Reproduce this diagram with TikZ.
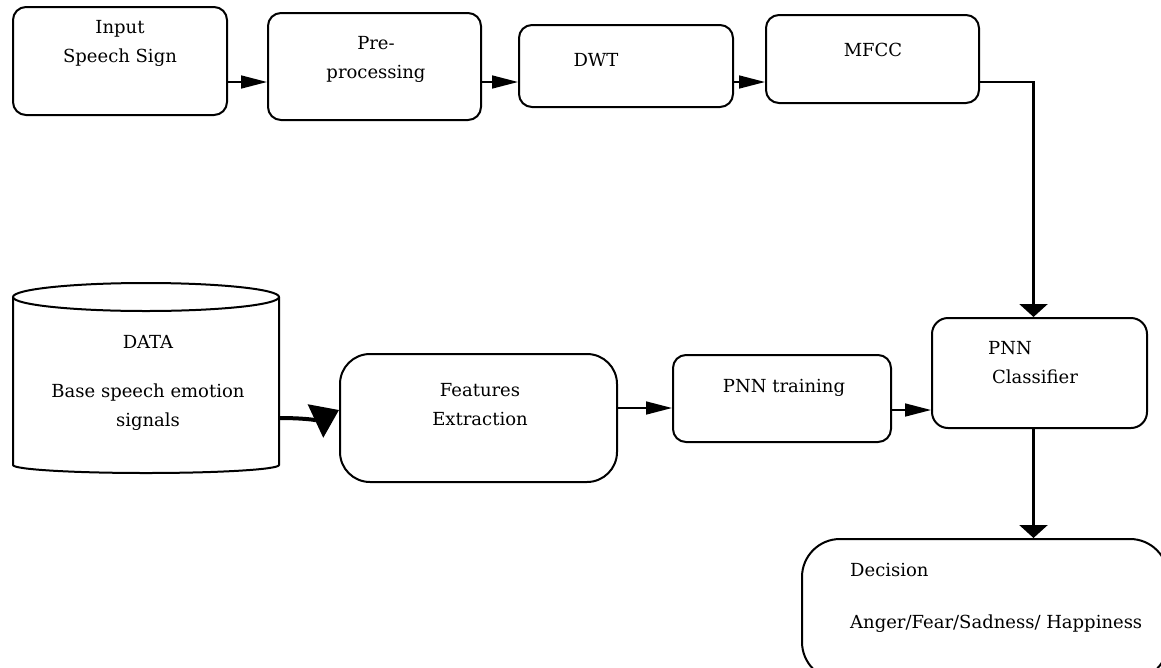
\documentclass[tikz,border=0pt]{standalone}
\usepackage{fontspec}
\setmainfont{DejaVu Serif}
\usetikzlibrary{arrows.meta}

\begin{document}
\begin{tikzpicture}[
  x=1pt, y=-1pt,
  box/.style={draw, line width=2pt, rounded corners=13pt, inner sep=0pt},
  txt/.style={align=center, inner sep=0pt, font=\fontsize{18}{29}\selectfont},
  harr/.style={line width=1.6pt, -{Triangle[length=26pt,width=13pt]}},
  varr/.style={line width=2.6pt, -{Triangle[length=13pt,width=28pt]}},
  darr/.style={line width=4pt, -{Triangle[length=26pt,width=36pt]}},
]
  \fill[white] (0,0) rectangle (1161,667);
  \useasboundingbox (0,0) rectangle (1161,667);
  \clip (0,0) rectangle (1161,667);

  % 上排方框
  \node[box, minimum width=214pt, minimum height=108pt] (inp) at (120,61) {};
  \node[box, minimum width=213pt, minimum height=107pt] (pre) at (374.5,66.5) {};
  \node[box, minimum width=214pt, minimum height=82pt] (dwt) at (626,66) {};
  \node[box, minimum width=213pt, minimum height=88pt] (mfcc) at (872.5,59) {};

  \node[txt] (inptxt) at (120,43) {Input\\Speech Sign};
  \node[txt] (pretxt) at (376,59) {Pre-\\processing};
  \node[txt] (dwttxt) at (596,60) {DWT};
  \node[txt] (mfcctxt) at (873,50) {MFCC};

  % 上排箭头
  \coordinate (a1) at ([yshift=-21pt]inp.east);
  \coordinate (a2) at ([yshift=-15.5pt]pre.east);
  \coordinate (a3) at ([yshift=-16pt]dwt.east);
  \coordinate (a4) at ([yshift=-23pt]mfcc.east);
  \draw[harr] (a1) -- (a1 -| pre.west);
  \draw[harr] (a2) -- (a2 -| dwt.west);
  \draw[harr] (a3) -- (a3 -| mfcc.west);

  % 数据库（圆柱）
  \draw[line width=2pt] (146,297) ellipse[x radius=133, y radius=14];
  \draw[line width=2pt] (13,297) -- (13,465)
    arc[start angle=180, end angle=0, x radius=133, y radius=8] -- (279,297);
  \coordinate (db) at (279,418);
  \node[txt] (dbtitle) at (148,342) {DATA};
  \node[txt] (dbtxt) at (148,407) {Base speech emotion\\signals};

  % 下排方框
  \node[box, rounded corners=30pt, minimum width=277pt, minimum height=128pt] (feat) at (478.5,418) {};
  \node[box, minimum width=218pt, minimum height=87pt] (trn) at (782,398.5) {};
  \node[box, rounded corners=16pt, minimum width=215pt, minimum height=110pt] (cls) at (1039.5,373) {};
  \node[box, rounded corners=38pt, minimum width=366pt, minimum height=141pt] (dec) at (985,609.5) {};

  \node[txt] (feattxt) at (480,405) {Features\\Extraction};
  \node[txt] (trntxt) at (784,388) {PNN training};
  \node[txt, align=left, anchor=west] (clstxt) at (988,363) {PNN\\\hspace{4pt}Classifier};
  \node[txt, align=left, anchor=west] (dectxt) at (850,598) {Decision\\[23pt]Anger/Fear/Sadness/ Happiness};

  % 下排箭头
  \draw[darr] (db) to[out=0, in=205] ([yshift=8pt]feat.west);
  \coordinate (b1) at ([yshift=10pt]feat.east);
  \coordinate (b2) at ([yshift=-11.5pt]trn.east);
  \draw[harr] (b1) -- (b1 -| trn.west);
  \draw[harr] (b2) -- (b2 -| cls.west);

  % MFCC 到分类器，分类器到决策
  \draw[varr] (a4) -| ([xshift=-6pt]cls.north);
  \coordinate (c1) at ([xshift=-6pt]cls.south);
  \draw[varr] (c1) -- (c1 |- dec.north);
\end{tikzpicture}
\end{document}
